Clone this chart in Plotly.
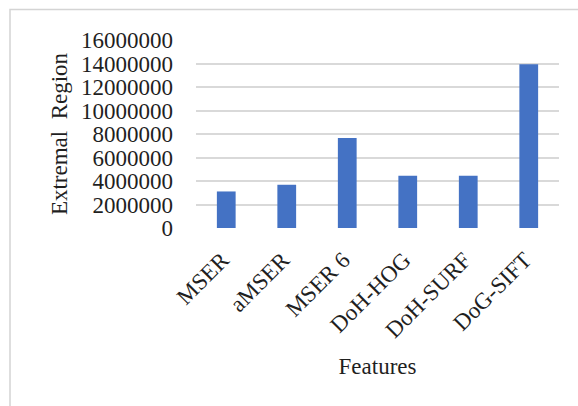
import plotly.graph_objects as go

# Extremal region counts per feature detector
features = ["MSER", "aMSER", "MSER 6", "DoH-HOG", "DoH-SURF", "DoG-SIFT"]
extremal_regions = [3110000, 3680000, 7650000, 4440000, 4440000, 13930000]
y_ticks = [0, 2000000, 4000000, 6000000, 8000000, 10000000, 12000000, 14000000, 16000000]

W, H = 578, 406
L, R, T, B = 196, 19, 40, 178
pw, ph = W - L - R, H - T - B

font_family = "Times New Roman, Liberation Serif, serif"
text_color = "#1f1f1f"

fig = go.Figure(
    go.Bar(
        x=features,
        y=extremal_regions,
        marker=dict(color="#4472C4", line=dict(width=0)),
    )
)

# light frame around the chart area (top and left edges in view)
fx0 = (10 - L) / pw
fy1 = (H - B - 9.5) / ph
fig.add_shape(type="rect", xref="paper", yref="paper",
              x0=fx0, x1=(W + 20 - L) / pw, y0=-(B + 20) / ph, y1=fy1,
              line=dict(color="#d4d4d4", width=1.5), layer="below")

fig.update_layout(
    width=W, height=H,
    margin=dict(l=L, r=R, t=T, b=B),
    paper_bgcolor="white", plot_bgcolor="white",
    bargap=0.69,
    showlegend=False,
    font=dict(family=font_family, size=23, color=text_color),
)
fig.update_xaxes(
    tickangle=-45,
    tickfont=dict(size=23),
    ticklabelstandoff=13,
    ticklabelshift=-4,
    title=dict(text="Features", font=dict(size=23), standoff=16),
    showgrid=False, showline=False, ticks="",
)
fig.update_yaxes(
    range=[0, 16000000],
    tickvals=y_ticks,
    ticktext=[str(v) for v in y_ticks],
    tickfont=dict(size=23),
    ticklabelstandoff=22,
    title=dict(text="Extremal  Region", font=dict(size=23), standoff=6),
    showgrid=True, gridcolor="#d9d9d9", gridwidth=1.5,
    zeroline=False, showline=False, ticks="",
)

fig.write_html("out.html")
